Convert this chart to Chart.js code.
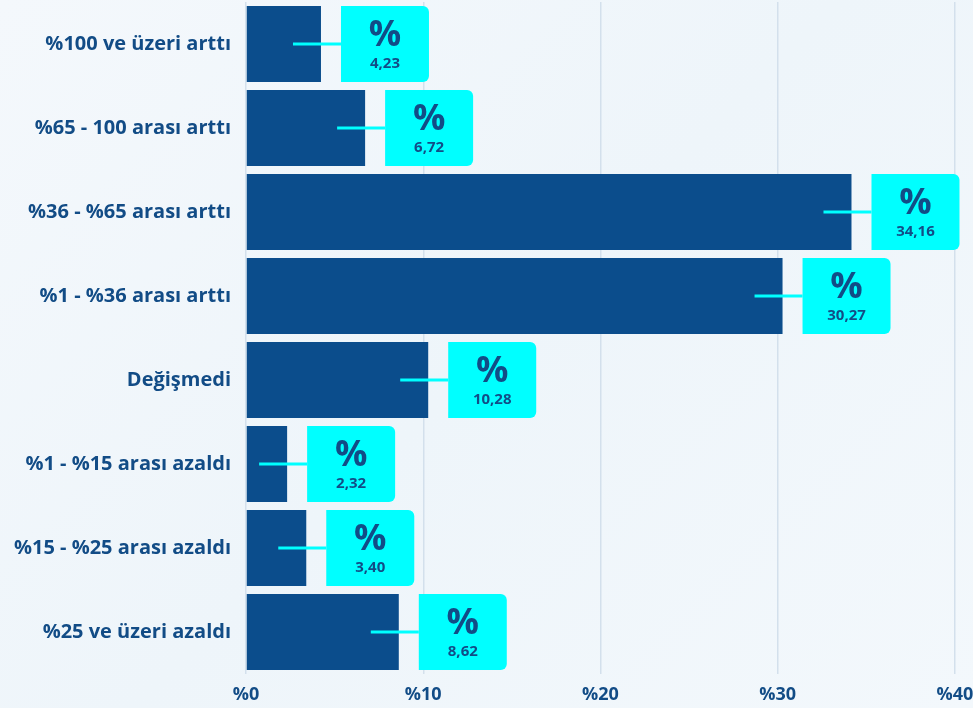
<!DOCTYPE html>
<html>
<head>
<meta charset="utf-8">
<script src="https://cdn.jsdelivr.net/npm/chart.js@4"></script>
<style>
  html, body { margin: 0; padding: 0; overflow: hidden; }
  body { width: 973px; height: 708px; background: linear-gradient(135deg, #f4f8fc 0%, #eef5fa 50%, #f3f8fc 100%); }
  #wrap { width: 1000px; height: 708px; position: relative; }
</style>
</head>
<body>
<div id="wrap"><canvas id="bankChart" width="1000" height="708"></canvas></div>
<script>
var categories = ['%100 ve üzeri arttı', '%65 - 100 arası arttı', '%36 - %65 arası arttı', '%1 - %36 arası arttı',
  'Değişmedi', '%1 - %15 arası azaldı', '%15 - %25 arası azaldı', '%25 ve üzeri azaldı'];
var shares = [4.23, 6.72, 34.16, 30.27, 10.28, 2.32, 3.40, 8.62];
var tickValues = [0, 10, 20, 30, 40];

var navy = '#0b4d8c';
var cyan = '#00ffff';
var textBlue = '#124c86';

// cyan callout box next to every bar
var calloutPlugin = {
  id: 'callout',
  afterDatasetsDraw: function (chart) {
    var ctx = chart.ctx;
    var meta = chart.getDatasetMeta(0);
    ctx.save();
    meta.data.forEach(function (bar, i) {
      var x = bar.x, y = bar.y, h = bar.height;
      var bx = x + 20, bw = 88, top = y - h / 2;
      ctx.strokeStyle = cyan;
      ctx.lineWidth = 3;
      ctx.beginPath();
      ctx.moveTo(x - 28, y);
      ctx.lineTo(bx, y);
      ctx.stroke();
      ctx.fillStyle = cyan;
      ctx.beginPath();
      ctx.roundRect(bx, top, bw, h, [0, 6, 6, 0]);
      ctx.fill();
      ctx.fillStyle = textBlue;
      ctx.textAlign = 'center';
      ctx.textBaseline = 'middle';
      ctx.font = 'bold 36px "Open Sans"';
      ctx.fillText('%', bx + bw / 2, y - 8);
      ctx.font = 'bold 15px "Open Sans"';
      ctx.fillText(shares[i].toFixed(2).replace('.', ','), bx + bw / 2, y + 20);
    });
    ctx.restore();
  }
};

new Chart(document.getElementById('bankChart'), {
  type: 'bar',
  data: {
    labels: categories,
    datasets: [{
      data: shares,
      backgroundColor: navy,
      categoryPercentage: 1,
      barPercentage: 0.905
    }]
  },
  options: {
    indexAxis: 'y',
    responsive: false,
    animation: false,
    layout: { padding: { top: 2, right: 45, left: 0, bottom: 0 } },
    plugins: { legend: { display: false }, tooltip: { enabled: false } },
    scales: {
      x: {
        min: 0, max: 40,
        afterBuildTicks: function (scale) {
          scale.ticks = tickValues.map(function (v) { return { value: v }; });
        },
        afterFit: function (scale) { scale.height = 34; },
        grid: { color: '#d3e0ec', lineWidth: 1.5, drawTicks: false },
        border: { display: false },
        ticks: {
          color: textBlue,
          padding: 10,
          font: { family: 'Open Sans', size: 18, weight: 'bold' },
          callback: function (v) { return '%' + v; }
        }
      },
      y: {
        afterFit: function (scale) {
          scale.width = 246;
          scale.paddingTop = 0;
          scale.paddingBottom = 0;
        },
        grid: { display: false, drawTicks: false },
        border: { display: false },
        ticks: {
          color: textBlue,
          padding: 15,
          font: { family: 'Open Sans', size: 20, weight: 'bold' }
        }
      }
    }
  },
  plugins: [calloutPlugin]
});
</script>
</body>
</html>
